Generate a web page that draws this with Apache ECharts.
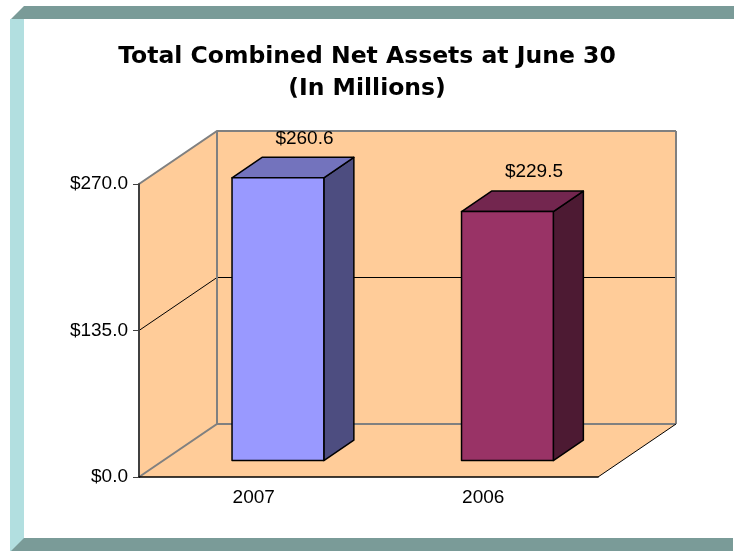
<!DOCTYPE html>
<html><head><meta charset="utf-8">
<script src="https://cdn.jsdelivr.net/npm/echarts@6/dist/echarts.min.js"></script>
<style>html,body{margin:0;padding:0;background:#fff}#c{width:734px;height:552px}</style>
</head><body><div id="c"></div>
<script>
const categories = ['2007', '2006'];
const netAssets = [260.6, 229.5];
const yTicks = [0, 135, 270];
const titleLines = ['Total Combined Net Assets at June 30', '(In Millions)'];

const FONT = '"Liberation Sans", Arial, sans-serif';
const TITLE_FONT = '"DejaVu Sans", "Liberation Sans", Arial, sans-serif';
const DX = 78, DY = -53;
const barFaces = [
  {front: '#9999FF', top: '#7373BD', side: '#4D4D80'},
  {front: '#993366', top: '#73264F', side: '#4D1A33'}
];
const fmt = v => '$' + Number(v).toFixed(1);

const chart = echarts.init(document.getElementById('c'), null, {renderer: 'canvas'});

function wallsRender(params, api) {
  const cs = params.coordSys;
  const x0 = cs.x, x1 = cs.x + cs.width;
  const yb = api.coord([0, yTicks[0]])[1];
  const yt = api.coord([0, yTicks[yTicks.length - 1]])[1];
  const fill = '#FFCC99', gray = '#808080';
  const ch = [];
  ch.push({type: 'polygon', shape: {points: [[x0, yb], [x1, yb], [x1 + DX, yb + DY], [x0 + DX, yb + DY]]}, style: {fill: fill}});
  ch.push({type: 'polygon', shape: {points: [[x0, yb], [x0, yt], [x0 + DX, yt + DY], [x0 + DX, yb + DY]]}, style: {fill: fill}});
  ch.push({type: 'rect', shape: {x: x0 + DX, y: yt + DY, width: x1 - x0, height: yb - yt}, style: {fill: fill}});
  yTicks.forEach((t, i) => {
    const y = api.coord([0, t])[1];
    const inner = i > 0 && i < yTicks.length - 1;
    ch.push({type: 'polyline', shape: {points: [[x0, y], [x0 + DX, y + DY], [x1 + DX, y + DY]]},
      style: {stroke: inner ? '#000' : gray, lineWidth: inner ? 1 : 2, fill: null}});
  });
  ch.push({type: 'line', shape: {x1: x0 + DX, y1: yt + DY, x2: x0 + DX, y2: yb + DY}, style: {stroke: gray, lineWidth: 2}});
  ch.push({type: 'line', shape: {x1: x1 + DX, y1: yt + DY, x2: x1 + DX, y2: yb + DY}, style: {stroke: gray, lineWidth: 2}});
  ch.push({type: 'line', shape: {x1: x1, y1: yb, x2: x1 + DX, y2: yb + DY}, style: {stroke: '#000', lineWidth: 1}});
  return {type: 'group', children: ch};
}

function barRender(params, api) {
  const idx = api.value(0), val = api.value(1);
  const base = api.coord([idx, 0]);
  const top = api.coord([idx, val]);
  const catW = api.size([1, 0])[0];
  const w = catW * 0.4;
  const fx = 0.31, dz = 0.385;
  const ox = DX * fx, oy = DY * fx;
  const l = base[0] - w / 2 + ox, r = base[0] + w / 2 + ox;
  const b = base[1] + oy, t = top[1] + oy;
  const ddx = DX * dz, ddy = DY * dz;
  const c = barFaces[params.dataIndex % barFaces.length];
  const st = f => ({fill: f, stroke: '#000', lineWidth: 1.5, lineJoin: 'round'});
  return {type: 'group', children: [
    {type: 'polygon', shape: {points: [[r, b], [r, t], [r + ddx, t + ddy], [r + ddx, b + ddy]]}, style: st(c.side)},
    {type: 'polygon', shape: {points: [[l, t], [r, t], [r + ddx, t + ddy], [l + ddx, t + ddy]]}, style: st(c.top)},
    {type: 'rect', shape: {x: l, y: t, width: r - l, height: b - t}, style: st(c.front)},
    {type: 'text', style: {text: fmt(val), x: (l + r) / 2 + ddx - 3.5, y: t + ddy - 19,
      fill: '#000', font: '19px ' + FONT, align: 'center', verticalAlign: 'middle'}}
  ]};
}

chart.setOption({
  backgroundColor: '#fff',
  animation: false,
  title: {
    text: titleLines.join('\n'),
    left: 'center', top: 36,
    textStyle: {fontSize: 23.5, fontWeight: 'bold', fontFamily: TITLE_FONT, color: '#000', lineHeight: 32}
  },
  graphic: [
    {type: 'polygon', shape: {points: [[24, 6], [734, 6], [734, 19], [11, 19]]}, style: {fill: '#7A9B98'}},
    {type: 'rect', shape: {x: 10, y: 19, width: 14, height: 532}, style: {fill: '#B2DFE0'}},
    {type: 'polygon', shape: {points: [[24, 538], [733, 538], [733, 551], [11, 551]]}, style: {fill: '#7A9B98'}}
  ],
  grid: {left: 139, top: 184, width: 459, height: 293, containLabel: false},
  xAxis: {
    type: 'category', data: categories, z: 10,
    axisLine: {lineStyle: {color: '#000', width: 1.5}},
    axisTick: {length: 5, lineStyle: {color: '#808080'}},
    axisLabel: {fontSize: 19, color: '#000', margin: 11, fontFamily: FONT}
  },
  yAxis: {
    type: 'value', min: yTicks[0], max: yTicks[yTicks.length - 1], interval: yTicks[1] - yTicks[0], z: 10,
    axisLine: {show: true, lineStyle: {color: '#404040', width: 2}},
    axisTick: {show: true, length: 6, lineStyle: {color: '#404040'}},
    axisLabel: {formatter: fmt, fontSize: 19, color: '#000', margin: 11, fontFamily: FONT},
    splitLine: {show: false}
  },
  series: [
    {type: 'custom', name: 'walls', z: 1, silent: true, renderItem: wallsRender, data: [[0, 0]], clip: false},
    {type: 'custom', name: 'Net Assets', z: 5, renderItem: barRender, clip: false,
      data: netAssets.map((v, i) => [i, v])}
  ]
});
</script></body></html>
